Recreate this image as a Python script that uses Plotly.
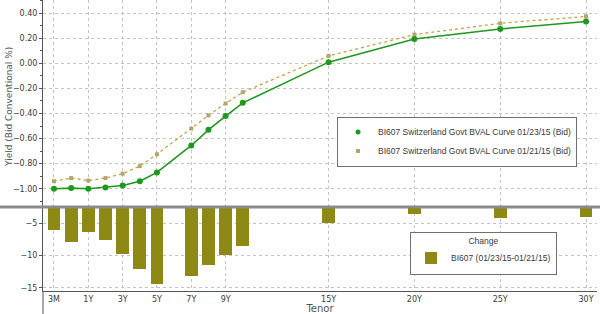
import plotly.graph_objects as go

# ---- data ----
tenor_labels = ["3M", "6M", "1Y", "2Y", "3Y", "4Y", "5Y", "7Y", "8Y", "9Y", "10Y", "15Y", "20Y", "25Y", "30Y"]
tenor_pos = [-1, 0, 1, 2, 3, 4, 5, 7, 8, 9, 10, 15, 20, 25, 30]
curve_0123 = [-1.00, -0.995, -1.00, -0.99, -0.975, -0.94, -0.87, -0.655, -0.53, -0.42, -0.315, 0.01, 0.195, 0.275, 0.335]
curve_0121 = [-0.94, -0.915, -0.935, -0.915, -0.88, -0.82, -0.725, -0.52, -0.415, -0.32, -0.23, 0.06, 0.23, 0.32, 0.375]
change_bp = [-6.1, -7.9, -6.3, -7.6, -9.7, -12.0, -14.4, -13.1, -11.5, -9.9, -8.5, -5.0, -3.6, -4.2, -4.0]
tick_pos = [-1, 1, 3, 5, 7, 9, 15, 20, 25, 30]
tick_text = ["3M", "1Y", "3Y", "5Y", "7Y", "9Y", "15Y", "20Y", "25Y", "30Y"]
name_a = "BI607 Switzerland Govt BVAL Curve 01/23/15 (Bid)"
name_b = "BI607 Switzerland Govt BVAL Curve 01/21/15 (Bid)"
name_c = "BI607 (01/23/15-01/21/15)"
y_title = "Yield (Bid Conventional %)"

GREEN = "#1c9a1c"
TAN = "#c4a441"
TANM = "#b4a66a"
OLIVE = "#8e8814"
GRID = "#c4c4c4"
AX = "#555555"
TXT = "#3a3a3a"

fig = go.Figure()

fig.add_trace(go.Scatter(x=tenor_pos, y=curve_0121, mode="lines+markers", xaxis="x", yaxis="y",
                         line=dict(color=TAN, width=1.3, dash="dot"),
                         marker=dict(symbol="square", size=4, color=TANM),
                         showlegend=False, text=tenor_labels))
fig.add_trace(go.Scatter(x=tenor_pos, y=curve_0123, mode="lines+markers", xaxis="x", yaxis="y",
                         line=dict(color=GREEN, width=1.6),
                         marker=dict(symbol="circle", size=6, color=GREEN),
                         showlegend=False, text=tenor_labels))
# legend-only entries (markers only, like the reference)
fig.add_trace(go.Scatter(x=[None], y=[None], mode="markers", name=name_a, xaxis="x", yaxis="y",
                         marker=dict(symbol="circle", size=5, color=GREEN), legend="legend"))
fig.add_trace(go.Scatter(x=[None], y=[None], mode="markers", name=name_b, xaxis="x", yaxis="y",
                         marker=dict(symbol="square", size=4, color=TANM), legend="legend"))

fig.add_trace(go.Bar(x=tenor_pos, y=change_bp, xaxis="x", yaxis="y2", name=name_c,
                     marker=dict(color=OLIVE, line=dict(width=0)), width=0.74,
                     legend="legend2", text=tenor_labels, textposition="none"))

W, H = 600, 314
ml, mr, mt, mb = 43, 3, 0, 23
pw = W - ml - mr
ph = H - mt - mb
split = 1 - 207 / ph

fig.update_layout(
    width=W, height=H,
    margin=dict(l=ml, r=mr, t=mt, b=mb),
    paper_bgcolor="white", plot_bgcolor="white",
    font=dict(family="DejaVu Sans", size=8, color=TXT),
    bargap=0,
    xaxis=dict(domain=[0, 1], anchor="y2", range=[-1.64, 30.64],
               tickvals=tick_pos, ticktext=tick_text, showgrid=True,
               gridcolor=GRID, griddash="dot", gridwidth=1,
               showline=True, linecolor=AX, linewidth=1, zeroline=False,
               ticks="", tickfont=dict(size=8, color=TXT),
               title=dict(text="Tenor", font=dict(size=10, color="#555555"), standoff=4)),
    yaxis=dict(domain=[split, 1], anchor="x", range=[-1.146, 0.506],
               tickvals=[0.4, 0.2, 0.0, -0.2, -0.4, -0.6, -0.8, -1.0], tickformat=".2f",
               showgrid=True, gridcolor=GRID, griddash="dot", gridwidth=1,
               showline=True, linecolor=AX, linewidth=1, zeroline=False,
               ticks="outside", ticklen=3, tickcolor=AX,
               minor=dict(dtick=0.1, ticks="outside", ticklen=2, tickcolor=AX, showgrid=False)),
    yaxis2=dict(domain=[0, split], anchor="x", range=[-15.47, -2.48],
                tickvals=[-5, -10, -15],
                showgrid=True, gridcolor=GRID, griddash="dot", gridwidth=1,
                showline=True, linecolor=AX, linewidth=1, zeroline=False,
                ticks="outside", ticklen=3, tickcolor=AX),
    legend=dict(x=(577 - ml) / pw, y=1 - 141.5 / ph, xanchor="right", yanchor="middle",
                bgcolor="white", bordercolor="#707070", borderwidth=1,
                font=dict(family="Liberation Sans", size=8.5, color=TXT),
                itemwidth=30, tracegroupgap=0),
    legend2=dict(x=(557 - ml) / pw, y=1 - 253 / ph, xanchor="right", yanchor="middle",
                 bgcolor="white", bordercolor="#707070", borderwidth=1,
                 font=dict(family="Liberation Sans", size=8.5, color=TXT),
                 title=dict(text="Change", side="top center",
                            font=dict(family="Liberation Sans", size=8.5, color=TXT)),
                 itemwidth=30),
    annotations=[
        dict(text=y_title, xref="paper", yref="paper", x=(9 - ml) / pw, y=1 - 107 / ph,
             xanchor="center", yanchor="middle", textangle=-90, showarrow=False,
             font=dict(family="DejaVu Sans", size=9, color="#555555")),
    ],
    shapes=[
        dict(type="line", xref="paper", yref="paper", x0=-ml / pw, x1=1 + mr / pw,
             y0=split, y1=split, line=dict(color="#8a8a8a", width=3)),
        dict(type="line", xref="paper", yref="paper", x0=0, x1=0,
             y0=-mb / ph, y1=0, line=dict(color=AX, width=1)),
    ],
)

fig.write_html("out.html")
